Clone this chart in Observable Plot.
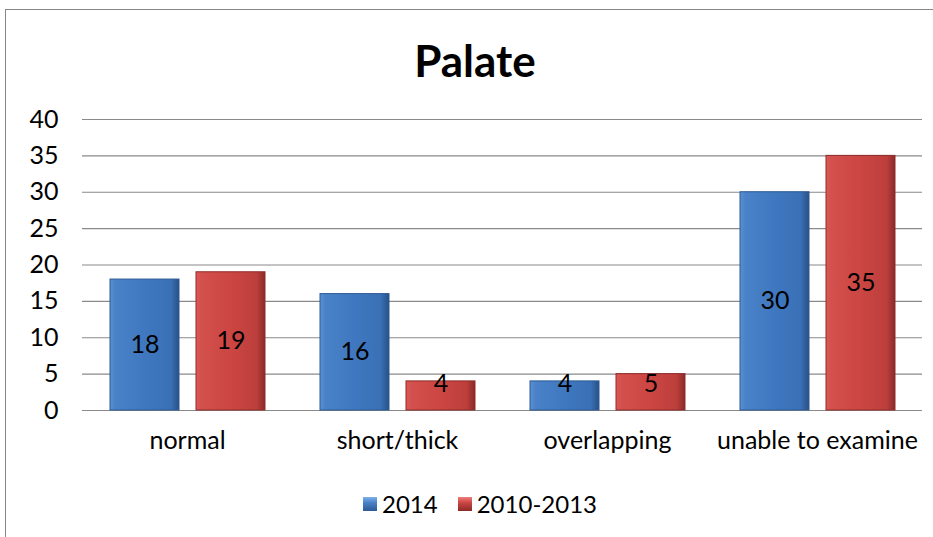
<!DOCTYPE html>
<html>
<head>
<meta charset="utf-8">
<script src="https://cdn.jsdelivr.net/npm/d3@7"></script>
<script src="https://cdn.jsdelivr.net/npm/@observablehq/plot@0.6"></script>
<style>
  html, body { margin: 0; padding: 0; background: #fff; }
  body { width: 933px; height: 537px; overflow: hidden; position: relative; font-family: Lato, "Open Sans", sans-serif; }
  #frame { position: absolute; left: 5px; top: 9px; width: 940px; height: 560px; border: 1px solid #868686; box-sizing: border-box; }
  #title { position: absolute; left: 5px; top: 33px; width: 940px; text-align: center; font-weight: 700; font-size: 44px; line-height: 54px; color: #000; }
  #chart { position: absolute; left: 0; top: 100px; }
  #legend { position: absolute; left: 0; top: 489px; width: 960px; display: flex; justify-content: center; align-items: center; font-size: 24px; color: #000; }
  .sw { width: 14px; height: 14px; margin-right: 5px; box-sizing: border-box; }
  .item { display: flex; align-items: center; margin: 0 10px; }
</style>
</head>
<body>
<div id="frame"></div>
<div id="title">Palate</div>
<div id="chart"></div>
<div id="legend"></div>
<script>
const categories = ["normal", "short/thick", "overlapping", "unable to examine"];
const series = ["2014", "2010-2013"];
const values2014 = [18, 16, 4, 30];
const values20102013 = [19, 4, 5, 35];
const yTicks = [0, 5, 10, 15, 20, 25, 30, 35, 40];

const data = [];
categories.forEach((c, i) => {
  data.push({category: c, series: series[0], value: values2014[i]});
  data.push({category: c, series: series[1], value: values20102013[i]});
});

const plot = Plot.plot({
  width: 933,
  height: 370,
  marginLeft: 82,
  marginRight: 11,
  marginTop: 19,
  marginBottom: 60,
  style: {fontFamily: "Lato, 'Open Sans', sans-serif", fontSize: "25px", color: "#000", background: "transparent"},
  fx: {domain: categories, padding: 0},
  x: {domain: series, paddingInner: 0.2, paddingOuter: 0.32, axis: null},
  y: {domain: [0, 40]},
  color: {domain: series, range: ["url(#gBlue)", "url(#gRed)"]},
  marks: [
    Plot.gridY(yTicks, {stroke: "#8a8a8a", strokeOpacity: 1, strokeWidth: 1.2}),
    Plot.axisY(yTicks, {tickSize: 0, tickPadding: 24, fontSize: 25, label: null}),
    Plot.axisFx({anchor: "bottom", tickSize: 0, tickPadding: 21, fontSize: 25, label: null}),
    Plot.barY(data, {fx: "category", x: "series", y: "value", fill: "series", stroke: d => d.series === series[0] ? "#2c5a94" : "#8e2c2a", strokeWidth: 1}),
    Plot.text(data, {fx: "category", x: "series", y: d => Math.max(d.value / 2, 3.6), text: d => String(d.value), fontSize: 25, fill: "#000"})
  ]
});

const svg = d3.select(plot);
const defs = svg.insert("defs", ":first-child");
function grad(id, stops) {
  const g = defs.append("linearGradient").attr("id", id).attr("x1", 0).attr("y1", 0).attr("x2", 1).attr("y2", 0);
  stops.forEach(([o, c]) => g.append("stop").attr("offset", o).attr("stop-color", c));
}
grad("gBlue", [[0, "#5a8fd2"], [0.08, "#4a82c8"], [0.5, "#3f78c0"], [0.88, "#3a70b5"], [1, "#285088"]]);
grad("gRed", [[0, "#dc5855"], [0.08, "#d2504d"], [0.5, "#cc4643"], [0.88, "#bc3f3c"], [1, "#8a2a28"]]);

document.getElementById("chart").appendChild(plot);

const legend = document.getElementById("legend");
const swatches = [["2014", "linear-gradient(180deg,#7fb0ea 0%,#4a82c8 40%,#2c5a94 100%)"], ["2010-2013", "linear-gradient(180deg,#ef7f7c 0%,#cc4643 40%,#8a2a28 100%)"]];
swatches.forEach(([label, bg]) => {
  const item = document.createElement("div");
  item.className = "item";
  const sw = document.createElement("div");
  sw.className = "sw";
  sw.style.background = bg;
  const t = document.createElement("span");
  t.textContent = label;
  item.appendChild(sw);
  item.appendChild(t);
  legend.appendChild(item);
});
</script>
</body>
</html>
